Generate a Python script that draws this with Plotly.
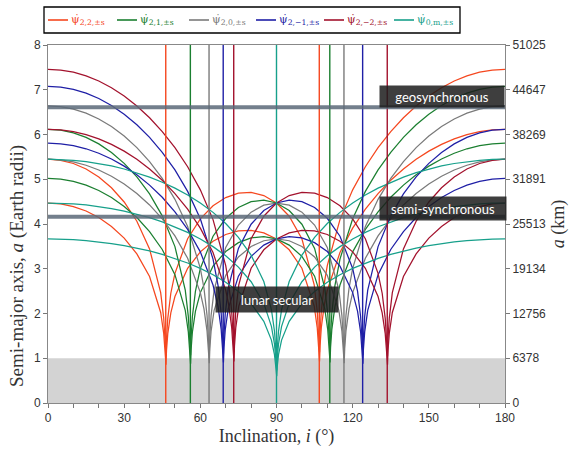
import plotly.graph_objects as go

# ---------------- data ----------------
# inclination samples (deg) and semi-major axis (Earth radii) for each resonance family
RED_I = [0, 5, 10, 15, 20, 25, 30, 35, 40,
         44.377, 45.577, 46.077, 46.277, 46.477, 46.677, 47.177, 48.377,
         50, 55, 60, 65, 70, 75, 80, 85, 90, 95, 100,
         104.852, 106.052, 106.552, 106.752, 106.952, 107.152, 107.652, 108.852,
         110, 115, 120, 125, 130, 135, 140, 145, 150, 155, 160, 165, 170, 175, 180]
RED_S1 = [5.448, 5.424, 5.352, 5.229, 5.052, 4.811, 4.492, 4.063, 3.444,
          2.466, 1.896, 1.431, 1.045, 1.045, 1.430, 1.891, 2.453,
          2.898, 3.671, 4.116, 4.407, 4.591, 4.688, 4.704, 4.635, 4.469, 4.174, 3.670,
          2.642, 2.044, 1.548, 1.132, 1.132, 1.552, 2.058, 2.686,
          3.071, 4.098, 4.763, 5.280, 5.706, 6.066, 6.375, 6.638, 6.860, 7.045, 7.195, 7.310, 7.392, 7.440, 7.457]
RED_S2 = [4.469, 4.449, 4.390, 4.290, 4.144, 3.946, 3.685, 3.333, 2.826,
          2.023, 1.555, 1.174, 0.857, 0.857, 1.173, 1.551, 2.012,
          2.378, 3.011, 3.377, 3.615, 3.766, 3.846, 3.859, 3.802, 3.666, 3.424, 3.011,
          2.167, 1.677, 1.270, 0.929, 0.929, 1.273, 1.688, 2.203,
          2.519, 3.362, 3.907, 4.331, 4.680, 4.976, 5.229, 5.445, 5.628, 5.779, 5.902, 5.996, 6.063, 6.103, 6.117]

DRED_I = [0, 5, 10, 15, 20, 25, 30, 35, 40, 45, 50, 55, 60, 65, 70,
          71.148, 72.348, 72.848, 73.048, 73.248, 73.448, 73.948, 75.148,
          80, 85, 90, 95, 100, 105, 110, 115, 120, 125, 130,
          131.623, 132.823, 133.323, 133.523, 133.723, 133.923, 134.423, 135.623,
          140, 145, 150, 155, 160, 165, 170, 175, 180]
DRED_S1 = [7.457, 7.440, 7.392, 7.310, 7.195, 7.045, 6.860, 6.638, 6.375, 6.066, 5.706, 5.280, 4.763, 4.098, 3.071,
           2.686, 2.058, 1.552, 1.132, 1.132, 1.548, 2.044, 2.642,
           3.670, 4.174, 4.469, 4.635, 4.704, 4.688, 4.591, 4.407, 4.116, 3.671, 2.898,
           2.453, 1.891, 1.430, 1.045, 1.045, 1.431, 1.896, 2.466,
           3.444, 4.063, 4.492, 4.811, 5.052, 5.229, 5.352, 5.424, 5.448]
DRED_S2 = [6.117, 6.103, 6.063, 5.996, 5.902, 5.779, 5.628, 5.445, 5.229, 4.976, 4.680, 4.331, 3.907, 3.362, 2.519,
           2.203, 1.688, 1.273, 0.929, 0.929, 1.270, 1.677, 2.167,
           3.011, 3.424, 3.666, 3.802, 3.859, 3.846, 3.766, 3.615, 3.377, 3.011, 2.378,
           2.012, 1.551, 1.173, 0.857, 0.857, 1.174, 1.555, 2.023,
           2.826, 3.333, 3.685, 3.946, 4.144, 4.290, 4.390, 4.449, 4.469]

GREEN_I = [0, 5, 10, 15, 20, 25, 30, 35, 40, 45, 50,
           54.065, 55.265, 55.765, 55.965, 56.165, 56.365, 56.865, 58.065,
           60, 65, 70, 75, 80, 85, 90, 95, 100, 105,
           108.993, 110.193, 110.693, 110.893, 111.093, 111.293, 111.793, 112.993,
           115, 120, 125, 130, 135, 140, 145, 150, 155, 160, 165, 170, 175, 180]
GREEN_S1 = [6.117, 6.097, 6.037, 5.935, 5.790, 5.599, 5.355, 5.052, 4.672, 4.182, 3.495,
            2.523, 1.936, 1.461, 1.066, 1.066, 1.459, 1.928, 2.495,
            3.007, 3.727, 4.128, 4.369, 4.498, 4.531, 4.469, 4.301, 3.995, 3.455,
            2.574, 1.991, 1.508, 1.103, 1.103, 1.512, 2.005, 2.617,
            3.215, 4.116, 4.729, 5.208, 5.603, 5.936, 6.216, 6.452, 6.647, 6.804, 6.925, 7.010, 7.061, 7.078]
GREEN_S2 = [5.018, 5.001, 4.952, 4.869, 4.750, 4.593, 4.393, 4.144, 3.832, 3.431, 2.867,
            2.070, 1.588, 1.198, 0.875, 0.875, 1.197, 1.581, 2.047,
            2.467, 3.057, 3.386, 3.584, 3.690, 3.717, 3.666, 3.529, 3.277, 2.834,
            2.111, 1.633, 1.237, 0.905, 0.905, 1.240, 1.644, 2.146,
            2.637, 3.377, 3.879, 4.272, 4.597, 4.869, 5.099, 5.293, 5.453, 5.582, 5.681, 5.751, 5.792, 5.806]

BLUE_I = [0, 5, 10, 15, 20, 25, 30, 35, 40, 45, 50, 55, 60, 65,
          67.007, 68.207, 68.707, 68.907, 69.107, 69.307, 69.807, 71.007,
          75, 80, 85, 90, 95, 100, 105, 110, 115, 120,
          121.935, 123.135, 123.635, 123.835, 124.035, 124.235, 124.735, 125.935,
          130, 135, 140, 145, 150, 155, 160, 165, 170, 175, 180]
BLUE_S1 = [7.078, 7.061, 7.010, 6.925, 6.804, 6.647, 6.452, 6.216, 5.936, 5.603, 5.208, 4.729, 4.116, 3.215,
           2.617, 2.005, 1.512, 1.103, 1.103, 1.508, 1.991, 2.574,
           3.455, 3.995, 4.301, 4.469, 4.531, 4.498, 4.369, 4.128, 3.727, 3.007,
           2.495, 1.928, 1.459, 1.066, 1.066, 1.461, 1.936, 2.523,
           3.495, 4.182, 4.672, 5.052, 5.355, 5.599, 5.790, 5.935, 6.037, 6.097, 6.117]
BLUE_S2 = [5.806, 5.792, 5.751, 5.681, 5.582, 5.453, 5.293, 5.099, 4.869, 4.597, 4.272, 3.879, 3.377, 2.637,
           2.146, 1.644, 1.240, 0.905, 0.905, 1.237, 1.633, 2.111,
           2.834, 3.277, 3.529, 3.666, 3.717, 3.690, 3.584, 3.386, 3.057, 2.467,
           2.047, 1.581, 1.197, 0.875, 0.875, 1.198, 1.588, 2.070,
           2.867, 3.431, 3.832, 4.144, 4.393, 4.593, 4.750, 4.869, 4.952, 5.001, 5.018]

GRAY_I = [0, 5, 10, 15, 20, 25, 30, 35, 40, 45, 50, 55, 60,
          61.435, 62.635, 63.135, 63.335, 63.535, 63.735, 64.235, 65.435,
          70, 75, 80, 85, 90, 95, 100, 105, 110,
          114.565, 115.765, 116.265, 116.465, 116.665, 116.865, 117.365, 118.565,
          120, 125, 130, 135, 140, 145, 150, 155, 160, 165, 170, 175, 180]
GRAY_S1 = [6.641, 6.623, 6.568, 6.477, 6.348, 6.178, 5.967, 5.708, 5.396, 5.018, 4.551, 3.943, 3.007,
           2.565, 1.965, 1.482, 1.082, 1.082, 1.478, 1.954, 2.527,
           3.476, 3.977, 4.265, 4.420, 4.469, 4.420, 4.265, 3.977, 3.476,
           2.527, 1.954, 1.478, 1.082, 1.082, 1.482, 1.965, 2.565,
           3.007, 3.943, 4.551, 5.018, 5.396, 5.708, 5.967, 6.178, 6.348, 6.477, 6.568, 6.623, 6.641]
GRAY_S2 = [5.448, 5.433, 5.388, 5.313, 5.207, 5.068, 4.895, 4.682, 4.426, 4.116, 3.733, 3.234, 2.467,
           2.104, 1.612, 1.216, 0.888, 0.888, 1.212, 1.603, 2.072,
           2.852, 3.263, 3.499, 3.626, 3.666, 3.626, 3.499, 3.263, 2.852,
           2.072, 1.603, 1.212, 0.888, 0.888, 1.216, 1.612, 2.104,
           2.467, 3.234, 3.733, 4.116, 4.426, 4.682, 4.895, 5.068, 5.207, 5.313, 5.388, 5.433, 5.448]

TEAL_I = [0, 5, 10, 15, 20, 25, 30, 35, 40, 45, 50, 55, 60, 65, 70, 75, 80, 85,
          88, 89.2, 89.7, 89.9, 90.1, 90.3, 90.8, 92,
          95, 100, 105, 110, 115, 120, 125, 130, 135, 140, 145, 150, 155, 160, 165, 170, 175, 180]
TEAL_M1S1 = [4.469, 4.464, 4.450, 4.425, 4.390, 4.345, 4.289, 4.221, 4.141, 4.048, 3.939, 3.813, 3.666, 3.494, 3.289, 3.037, 2.710, 2.226,
             1.713, 1.319, 0.997, 0.728, 0.728, 0.997, 1.319, 1.713,
             2.226, 2.710, 3.037, 3.289, 3.494, 3.666, 3.813, 3.939, 4.048, 4.141, 4.221, 4.289, 4.345, 4.390, 4.425, 4.450, 4.464, 4.469]
TEAL_M1S2 = [3.666, 3.662, 3.650, 3.630, 3.601, 3.564, 3.518, 3.463, 3.397, 3.320, 3.231, 3.128, 3.007, 2.866, 2.698, 2.492, 2.223, 1.826,
             1.406, 1.082, 0.818, 0.597, 0.597, 0.818, 1.082, 1.406,
             1.826, 2.223, 2.492, 2.698, 2.866, 3.007, 3.128, 3.231, 3.320, 3.397, 3.463, 3.518, 3.564, 3.601, 3.630, 3.650, 3.662, 3.666]
TEAL_M2S1 = [5.448, 5.442, 5.424, 5.394, 5.352, 5.297, 5.229, 5.146, 5.049, 4.934, 4.802, 4.648, 4.469, 4.260, 4.010, 3.703, 3.304, 2.713,
             2.089, 1.608, 1.215, 0.888, 0.888, 1.215, 1.608, 2.089,
             2.713, 3.304, 3.703, 4.010, 4.260, 4.469, 4.648, 4.802, 4.934, 5.049, 5.146, 5.229, 5.297, 5.352, 5.394, 5.424, 5.442, 5.448]

# secular (s = 0) critical inclinations, deg
RED_CRIT = [46.38, 106.85]
GREEN_CRIT = [56.07, 110.99]
GRAY_CRIT = [63.43, 116.57]
BLUE_CRIT = [69.01, 123.93]
DRED_CRIT = [73.15, 133.62]
TEAL_CRIT = [90.0]

LEGEND_LABELS = ["ψ̇<sub>2,2,±s</sub>", "ψ̇<sub>2,1,±s</sub>", "ψ̇<sub>2,0,±s</sub>",
                 "ψ̇<sub>2,−1,±s</sub>", "ψ̇<sub>2,−2,±s</sub>", "ψ̇<sub>0,m,±s</sub>"]

GEO_A = 6.611       # geosynchronous, Earth radii
SEMI_A = 4.164      # semi-synchronous, Earth radii
EARTH_A = 1.0
KM_TICKS = [0, 6378, 12756, 19134, 25513, 31891, 38269, 44647, 51025]
KM_PER_RE = 6378.137

# ---------------- figure ----------------
W, H = 576, 450
ML, MR, MT, MB = 48, 71, 45, 47
PW, PH = W - ML - MR, H - MT - MB


def px(xp):   # pixel x -> paper x
    return (xp - ML) / PW


def py(yp):   # pixel y -> paper y
    return (H - MB - yp) / PH


COLORS = ["#f5471f", "#1b7f30", "#7a7a7a", "#1f1fa6", "#a3122d", "#17a08b"]
families = [
    (RED_I, [RED_S1, RED_S2], RED_CRIT),
    (GREEN_I, [GREEN_S1, GREEN_S2], GREEN_CRIT),
    (GRAY_I, [GRAY_S1, GRAY_S2], GRAY_CRIT),
    (BLUE_I, [BLUE_S1, BLUE_S2], BLUE_CRIT),
    (DRED_I, [DRED_S1, DRED_S2], DRED_CRIT),
    (TEAL_I, [TEAL_M2S1, TEAL_M1S1, TEAL_M1S2], TEAL_CRIT),
]

fig = go.Figure()

fig.add_hrect(y0=0, y1=EARTH_A, fillcolor="#d3d3d3", line_width=0, layer="below")

for k, (inc, series, crit) in enumerate(families):
    col = COLORS[k]
    for vals in series:
        fig.add_trace(go.Scatter(
            x=inc, y=vals, mode="lines",
            line=dict(color=col, width=1.25),
            showlegend=False, hoverinfo="skip"))
    for c in crit:
        fig.add_vline(x=c, line=dict(color=col, width=1.4), layer="above")

# dummy trace so the km axis is drawn
fig.add_trace(go.Scatter(x=[None], y=[None], yaxis="y2", showlegend=False, hoverinfo="skip"))

for a in (GEO_A, SEMI_A):
    fig.add_hline(y=a, line=dict(color="rgba(90,105,120,0.85)", width=4), layer="above")

label_font = dict(family="Lato", size=13, color="white")
box = "rgba(28,28,28,0.85)"
fig.add_annotation(x=155.3, y=6.86, xref="x", yref="y", text="geosynchronous", showarrow=False,
                   bgcolor=box, width=122, height=19, font=label_font)
fig.add_annotation(x=155.7, y=4.35, xref="x", yref="y", text="semi-synchronous", showarrow=False,
                   bgcolor=box, width=124, height=21, font=label_font)
fig.add_annotation(x=90.2, y=2.31, xref="x", yref="y", text="lunar secular", showarrow=False,
                   bgcolor=box, width=120, height=23, font=label_font)

# legend box drawn by hand (compact, like the reference)
fig.add_shape(type="rect", xref="paper", yref="paper",
              x0=px(44), x1=px(460), y0=py(33), y1=py(7),
              line=dict(color="black", width=1.3), fillcolor="white")
LEG_X = [48, 117, 189, 256, 324, 394]
for k, xs in enumerate(LEG_X):
    col = COLORS[k]
    fig.add_shape(type="line", xref="paper", yref="paper",
                  x0=px(xs), x1=px(xs + 20), y0=py(20), y1=py(20),
                  line=dict(color=col, width=1.6))
    fig.add_annotation(x=px(xs + 21), y=py(20), xref="paper", yref="paper",
                       xanchor="left", yanchor="middle", showarrow=False,
                       text=LEGEND_LABELS[k],
                       font=dict(family="DejaVu Serif", size=11, color=col))

tick_font = dict(family="Liberation Sans", size=12, color="#333333")
title_font = dict(family="Liberation Serif", size=18, color="#333333")

# left axis title as a rotated annotation for precise placement
fig.add_annotation(x=px(17), y=py(266), xref="paper", yref="paper", showarrow=False,
                   textangle=-90, xanchor="center", yanchor="middle",
                   text="Semi-major axis, <i>a</i> (Earth radii)",
                   font=dict(family="Liberation Serif", size=19, color="#333333"))

fig.update_layout(
    width=W, height=H,
    margin=dict(l=ML, r=MR, t=MT, b=MB, autoexpand=False),
    paper_bgcolor="white", plot_bgcolor="white",
    showlegend=False,
    xaxis=dict(range=[0, 180], tickvals=[0, 30, 60, 90, 120, 150, 180],
               ticks="outside", ticklen=4, tickcolor="#777", showline=True, linecolor="#888",
               linewidth=1, mirror=True, showgrid=False, zeroline=False,
               minor=dict(dtick=10, ticks="outside", ticklen=4, tickcolor="#777"),
               tickfont=tick_font,
               title=dict(text="Inclination, <i>i</i> (°)", font=title_font, standoff=4)),
    yaxis=dict(range=[0, 8], dtick=1, ticks="outside", ticklen=4, tickcolor="#777",
               showline=True, linecolor="#888", linewidth=1, showgrid=False, zeroline=False,
               tickfont=tick_font),
    yaxis2=dict(range=[0, 8 * KM_PER_RE], overlaying="y", side="right",
                tickvals=KM_TICKS, ticktext=[str(v) for v in KM_TICKS],
                ticks="outside", ticklen=4, tickcolor="#777", showline=True, linecolor="#888",
                linewidth=1, showgrid=False, zeroline=False, tickfont=tick_font,
                title=dict(text="<i>a</i> (km)", font=title_font, standoff=6)),
)

fig.write_html("out.html")
